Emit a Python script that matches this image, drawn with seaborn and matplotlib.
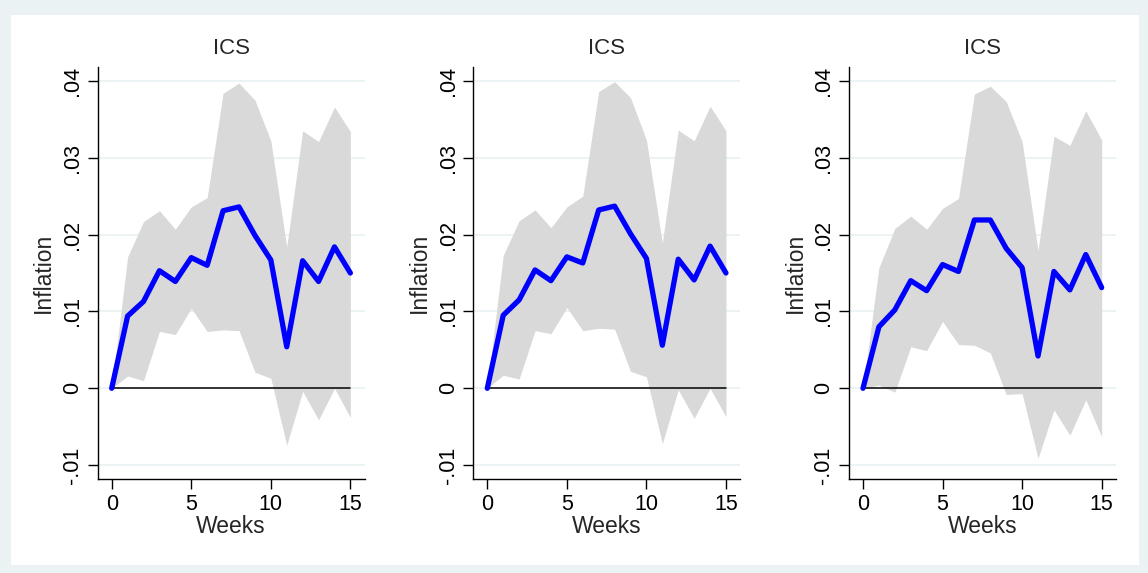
import matplotlib
matplotlib.use('Agg')
import matplotlib.pyplot as plt
from matplotlib.patches import Rectangle
from matplotlib.ticker import FuncFormatter
import numpy as np
import pandas as pd
import seaborn as sns

weeks = list(range(16))

# panel 1
irf_1 = [0, 0.0094, 0.0113, 0.0153, 0.0139, 0.0170, 0.0160, 0.0231, 0.0236, 0.0199,
         0.0167, 0.0054, 0.0166, 0.0139, 0.0184, 0.0150]
upper_1 = [0, 0.0171, 0.0217, 0.0231, 0.0207, 0.0236, 0.0248, 0.0384, 0.0397, 0.0375,
           0.0322, 0.0184, 0.0335, 0.0321, 0.0366, 0.0334]
lower_1 = [0, 0.0016, 0.0010, 0.0074, 0.0070, 0.0104, 0.0074, 0.0076, 0.0075, 0.0021,
           0.0013, -0.0074, -0.0004, -0.0041, 0.0000, -0.0038]

# panel 2
irf_2 = [0, 0.0095, 0.0115, 0.0154, 0.0140, 0.0171, 0.0163, 0.0232, 0.0237, 0.0201,
         0.0169, 0.0056, 0.0168, 0.0141, 0.0185, 0.0150]
upper_2 = [0, 0.0173, 0.0218, 0.0232, 0.0209, 0.0236, 0.0250, 0.0386, 0.0399, 0.0378,
           0.0323, 0.0189, 0.0336, 0.0322, 0.0367, 0.0335]
lower_2 = [0, 0.0017, 0.0012, 0.0075, 0.0071, 0.0105, 0.0075, 0.0078, 0.0077, 0.0022,
           0.0015, -0.0072, -0.0002, -0.0039, 0.0000, -0.0037]

# panel 3
irf_3 = [0, 0.0080, 0.0102, 0.0140, 0.0127, 0.0161, 0.0152, 0.0219, 0.0219, 0.0182,
         0.0157, 0.0042, 0.0152, 0.0128, 0.0174, 0.0131]
upper_3 = [0, 0.0157, 0.0208, 0.0224, 0.0207, 0.0234, 0.0247, 0.0383, 0.0393, 0.0373,
           0.0321, 0.0179, 0.0328, 0.0316, 0.0361, 0.0323]
lower_3 = [0, 0.0004, -0.0005, 0.0054, 0.0049, 0.0087, 0.0057, 0.0056, 0.0046, -0.0008,
           -0.0007, -0.0091, -0.0028, -0.0061, -0.0015, -0.0063]

panel_titles = ['ICS', 'ICS', 'ICS']
y_ticks = [-0.01, 0, 0.01, 0.02, 0.03, 0.04]
x_ticks = [0, 5, 10, 15]

sns.set_style('ticks')
plt.rcParams['font.family'] = ['Liberation Sans', 'DejaVu Sans']

BG = '#EAF2F3'
fig = plt.figure(figsize=(11.48, 5.73), dpi=100, facecolor=BG)
# white plot region inside the light frame
fig.patches.append(Rectangle((11 / 1148, 1 - 565 / 573), 1128 / 1148, 550 / 573,
                             transform=fig.transFigure, facecolor='white',
                             edgecolor='none', zorder=-10))


def stata_fmt(v, pos):
    if abs(v) < 1e-12:
        return '0'
    s = f'{v:.2f}'.rstrip('0')
    return s.replace('0.', '.')


lefts = [97.7, 473.3, 849.0]
panels = [(irf_1, upper_1, lower_1), (irf_2, upper_2, lower_2), (irf_3, upper_3, lower_3)]

for left, (irf, up, lo), title in zip(lefts, panels, panel_titles):
    ax = fig.add_axes([left / 1148, 1 - 479 / 573, 267 / 1148, 412 / 573])
    ax.set_facecolor('none')
    df = pd.DataFrame({'Weeks': weeks, 'irf': irf, 'upper': up, 'lower': lo})
    for t in y_ticks:
        ax.axhline(t, color=BG, lw=1.3, zorder=0)
    ax.fill_between(df['Weeks'], df['lower'], df['upper'], color='#D9D9D9',
                    lw=0, zorder=1)
    ax.plot([weeks[0], weeks[-1]], [0, 0], color='black', lw=1.1, zorder=2)
    sns.lineplot(data=df, x='Weeks', y='irf', ax=ax, color='#0000FF', lw=3.8,
                 zorder=3)
    ax.set_xlim(-0.88, 15.9)
    ax.set_ylim(-0.0118, 0.0418)
    ax.set_xticks(x_ticks)
    ax.set_yticks(y_ticks)
    ax.yaxis.set_major_formatter(FuncFormatter(stata_fmt))
    ax.tick_params(axis='both', labelsize=15.5, length=7, width=1, color='black',
                   labelcolor='black')
    for lab in ax.get_yticklabels():
        lab.set_rotation(90)
        lab.set_va('center')
    ax.set_xlabel('Weeks', fontsize=16.5, labelpad=0)
    ax.set_ylabel('Inflation', fontsize=16.5, labelpad=5)
    ax.set_title(title, fontsize=16, pad=9)
    for side in ['top', 'right']:
        ax.spines[side].set_visible(False)
    for side in ['left', 'bottom']:
        ax.spines[side].set_linewidth(1)
        ax.spines[side].set_color('black')

fig.savefig('out.png', dpi=100, facecolor=BG)
